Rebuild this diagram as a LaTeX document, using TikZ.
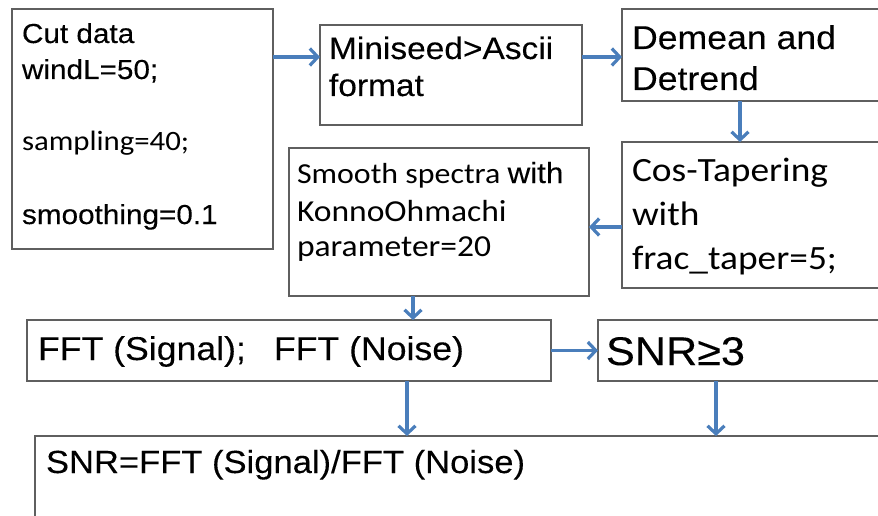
\documentclass[tikz,border=0pt]{standalone}
\usepackage{fontspec}
\setmainfont{Liberation Sans}
\newfontfamily\arialf[FakeStretch=1.08,FakeBold=0.2]{Liberation Sans}
\newfontfamily\calf[FakeStretch=1.1]{Carlito}
\usetikzlibrary{arrows.meta}
\definecolor{arrowblue}{RGB}{74,126,187}
\definecolor{boxgray}{RGB}{95,95,95}
\newcommand{\fA}[1]{\arialf\fontsize{#1}{#1}\selectfont}
\newcommand{\fC}[1]{\calf\fontsize{#1}{#1}\selectfont}
\begin{document}
\begin{tikzpicture}[x=1pt,y=-1pt,
  box/.style={draw=boxgray,line width=1.3pt,anchor=north west,inner sep=0pt,outer sep=0pt},
  txt/.style={anchor=base west,inner sep=0pt,outer sep=0pt,text=black},
  conn/.style={draw=arrowblue,line width=3.2pt,-{Straight Barb[length=8pt,width=17pt]}}]
\useasboundingbox (0,0) rectangle (878,516);
\clip (0,0) rectangle (878,516);
% boxes
\node[box,minimum width=261pt,minimum height=240pt] (b1) at (12,9) {};
\node[box,minimum width=262pt,minimum height=100pt] (b2) at (320,25) {};
\node[box,minimum width=290pt,minimum height=92pt] (b3) at (622,9) {};
\node[box,minimum width=290pt,minimum height=146pt] (b4) at (622,142) {};
\node[box,minimum width=300pt,minimum height=148pt] (b5) at (289,148) {};
\node[box,minimum width=524pt,minimum height=61pt] (b6) at (27,320) {};
\node[box,minimum width=300pt,minimum height=61pt] (b7) at (598,320) {};
\node[box,minimum width=880pt,minimum height=120pt] (b8) at (35,436) {};
% texts
\node[txt,font=\fA{27.5}] (t1a) at (22,43) {Cut data};
\node[txt,font=\fA{27.5}] (t1b) at (22,79) {windL=50;};
\node[txt,font=\fC{28}] (t1c) at (22,150) {sampling=40;};
\node[txt,font=\fA{27.5}] (t1d) at (22,224) {smoothing=0.1};
\node[txt,font=\fA{31}] (t2a) at (329,59) {Miniseed>Ascii};
\node[txt,font=\fA{31}] (t2b) at (329,96) {format};
\node[txt,font=\fA{33}] (t3a) at (632,49) {Demean and};
\node[txt,font=\fA{33}] (t3b) at (632,90) {Detrend};
\node[txt,font=\fC{34}] (t4a) at (632,182) {Cos-Tapering};
\node[txt,font=\fC{34}] (t4b) at (632,225) {with};
\node[txt,font=\fC{34}] (t4c) at (632,269) {frac\_taper=5;};
\node[txt] (t5a) at (297,183) {\fC{29}Smooth spectra \fA{29}with};
\node[txt,font=\fC{30.5}] (t5b) at (297,221) {KonnoOhmachi};
\node[txt,font=\fC{30.5}] (t5c) at (297,256) {parameter=20};
\node[txt,font=\fA{33}] (t6) at (38,360) {FFT (Signal);\hspace{28pt}FFT (Noise)};
\node[txt,font=\fA{40}] (t7) at (606,365) {SNR≥3};
\node[txt,font=\fA{32}] (t8) at (46,473) {SNR=FFT (Signal)/FFT (Noise)};
% connectors
\draw[conn] ([yshift=-48pt]b1.north east) -- ([yshift=-32pt]b2.north west);
\draw[conn] ([yshift=-32pt]b2.north east) -- ([yshift=-48pt]b3.north west);
\draw[conn] ([xshift=118pt]b3.south west) -- ([xshift=118pt]b4.north west);
\draw[conn] ([yshift=-85pt]b4.north west) -- ([yshift=-79pt]b5.north east);
\draw[conn] ([xshift=124pt]b5.south west) -- ([xshift=386pt]b6.north west);
\draw[conn] (b6.east) -- (b7.west);
\draw[conn] ([xshift=380pt]b6.south west) -- ([xshift=372pt]b8.north west);
\draw[conn] ([xshift=118pt]b7.south west) -- ([xshift=681pt]b8.north west);
\end{tikzpicture}
\end{document}
